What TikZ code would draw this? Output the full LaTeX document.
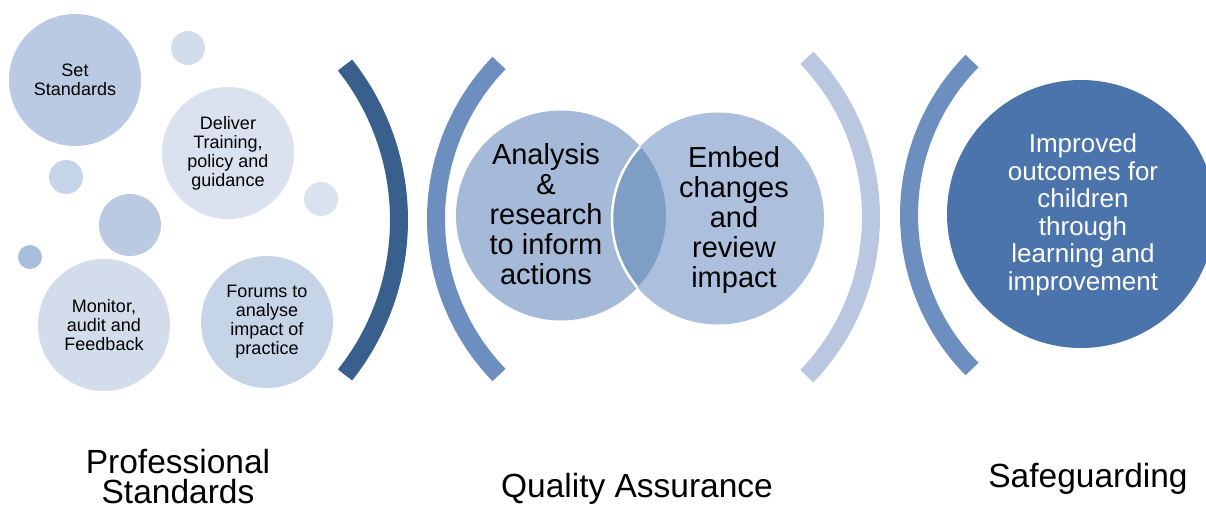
\documentclass[tikz,border=0pt]{standalone}
\usepackage{fontspec}
\setmainfont{Liberation Sans}
\usepackage{tikz}
\usetikzlibrary{calc,shapes,positioning}

\definecolor{blueA}{HTML}{B9CAE2}
\definecolor{blueB}{HTML}{DAE2EF}
\definecolor{blueC}{HTML}{D2DCEB}
\definecolor{blueD}{HTML}{C6D4E8}
\definecolor{blueE}{HTML}{A8BEDC}
\definecolor{vennL}{HTML}{A5B9D8}
\definecolor{vennR}{HTML}{ACC0DE}
\definecolor{vennM}{HTML}{7E9EC6}
\definecolor{arcDark}{HTML}{395F8C}
\definecolor{arcMid}{HTML}{6D8FC0}
\definecolor{arcLight}{HTML}{B9C7E0}
\definecolor{goal}{HTML}{4A74AB}

\tikzset{
	bubble/.style={circle, inner sep=0pt, minimum size=132bp, align=center,
		font=\fontsize{18bp}{19bp}\selectfont},
	dot/.style={circle, inner sep=0pt},
	bracket/.style={line width=18bp, line cap=butt},
	venntext/.style={align=center, inner sep=0pt, font=\fontsize{29bp}{30bp}\selectfont},
	caption/.style={align=center, inner sep=0pt, font=\fontsize{33.5bp}{30bp}\selectfont}
}

\begin{document}
\begin{tikzpicture}
	\useasboundingbox (0bp,0bp) rectangle (1206bp,-512bp);

	\node (set) at (75bp,-80bp) [bubble, fill=blueA] {Set\\Standards};
	\node (deliver) at (228bp,-153bp) [bubble, fill=blueB] {Deliver\\Training,\\policy and\\guidance};
	\node (monitor) at (104bp,-325bp) [bubble, fill=blueC] {Monitor,\\audit and\\Feedback};
	\node (forums) at (267bp,-322bp) [bubble, fill=blueD] {Forums to\\analyse\\impact of\\practice};

	\node (d1) at (188bp,-48bp) [dot, minimum size=34bp, fill=blueC] {};
	\node (d2) at (321bp,-199bp) [dot, minimum size=34bp, fill=blueB] {};
	\node (d3) at (66bp,-177bp) [dot, minimum size=34bp, fill=blueD] {};
	\node (d4) at (130bp,-225bp) [dot, minimum size=62bp, fill=blueA] {};
	\node (d5) at (30bp,-257bp) [dot, minimum size=24bp, fill=blueE] {};

	\draw [bracket, arcDark] (149.5bp,-220bp) ++(38.4:249.5bp) arc (38.4:-38.4:249.5bp);
	\draw [bracket, arcMid] (660.6bp,-219bp) ++(136:224.6bp) arc (136:224:224.6bp);
	\draw [bracket, arcLight] (641.5bp,-217bp) ++(43.9:229.5bp) arc (43.9:-43.9:229.5bp);
	\draw [bracket, arcMid] (1128.7bp,-215bp) ++(135.5:219.7bp) arc (135.5:224.5:219.7bp);

	\node (analysis) at (561bp,-215.5bp) [dot, minimum size=210bp, fill=vennL] {};
	\node (embed) at (718bp,-218.5bp) [dot, minimum size=212bp, fill=vennR] {};
	\begin{scope}
		\clip (analysis.center) circle (105bp);
		\fill [vennM] (embed.center) circle (106bp);
		\draw [white, line width=2.5bp] (embed.center) circle (106bp);
	\end{scope}
	\node (analysistext) at (546bp,-214bp) [venntext] {Analysis\\\&\\research\\to inform\\actions};
	\node (embedtext) at (734bp,-219.5bp) [venntext] {Embed\\changes\\and\\review\\impact};

	\node (outcome) at (1081bp,-214bp) [dot, minimum size=268bp, fill=goal] {};
	\node (outcometext) at (1083bp,-215bp) [align=center, inner sep=0pt, text=white,
		font=\fontsize{26bp}{27.5bp}\selectfont]
		{Improved\\outcomes for\\children\\through\\learning and\\improvement};

	\node (prof) at (178bp,-477bp) [caption] {Professional\\Standards};
	\node (qa) at (637bp,-497bp) [caption, anchor=base] {Quality Assurance};
	\node (safe) at (1088bp,-487bp) [caption, anchor=base] {Safeguarding};
\end{tikzpicture}
\end{document}
